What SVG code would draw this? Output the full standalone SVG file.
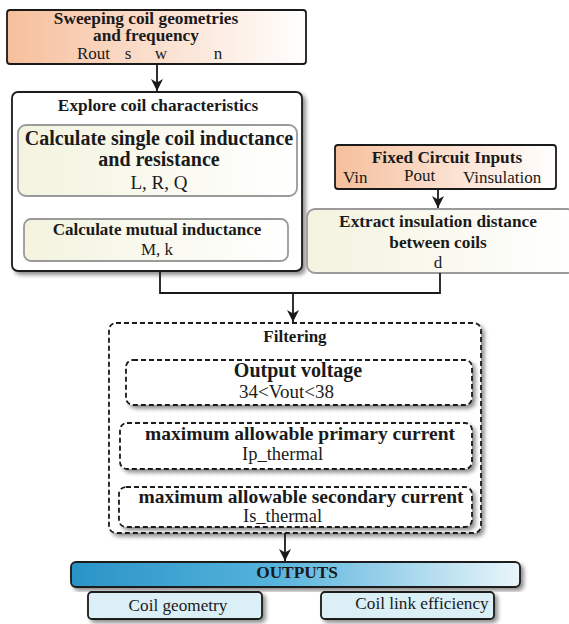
<svg xmlns="http://www.w3.org/2000/svg" width="569" height="624" viewBox="0 0 569 624">
<defs>
<linearGradient id="salmon" x1="0" y1="0" x2="1" y2="0">
<stop offset="0" stop-color="#f6bf9c"/>
<stop offset="1" stop-color="#ffffff"/>
</linearGradient>
<linearGradient id="cream" x1="0" y1="0" x2="1" y2="0">
<stop offset="0" stop-color="#f3f3df"/>
<stop offset="1" stop-color="#ffffff"/>
</linearGradient>
<linearGradient id="blue" x1="0" y1="0" x2="1" y2="0">
<stop offset="0" stop-color="#2a93c6"/>
<stop offset="0.45" stop-color="#55b3dc"/>
<stop offset="1" stop-color="#eaf5fa"/>
</linearGradient>
<filter id="shadow" x="-5%" y="-10%" width="115%" height="130%">
<feGaussianBlur in="SourceAlpha" stdDeviation="2"/>
<feOffset dx="3" dy="3" result="b"/>
<feComponentTransfer><feFuncA type="linear" slope="0.45"/></feComponentTransfer>
<feMerge><feMergeNode/><feMergeNode in="SourceGraphic"/></feMerge>
</filter>
<marker id="arrowL" viewBox="0 0 10 10" refX="10" refY="5" markerWidth="12" markerHeight="12" orient="auto" markerUnits="userSpaceOnUse">
<path d="M0,0 L10,5 L0,10 L3,5 Z" fill="#1a1a1a"/>
</marker>
</defs>
<style>
.t{font-family:'Liberation Serif',serif;fill:#1a1a1a;text-anchor:middle}
.s{text-anchor:start}
.b{font-weight:bold}
.dark{stroke:#1a1a1a;stroke-width:1.8}
.gray{stroke:#9a9a9a;stroke-width:1.8}
.dash{fill:#ffffff;stroke:#1a1a1a;stroke-width:1.8;stroke-dasharray:5,3}
.conn{fill:none;stroke:#1a1a1a;stroke-width:1.8}
</style>
<rect width="569" height="624" fill="#ffffff"/>

<g id="sweep">
<rect x="7" y="10" width="299" height="54" rx="3" fill="url(#salmon)" class="dark"/>
<text class="t b" x="146" y="24" font-size="17.3">Sweeping coil geometries</text>
<text class="t b" x="146" y="41" font-size="17.3">and frequency</text>
<text class="t s" x="77" y="59" font-size="17">Rout</text>
<text class="t" x="128" y="59" font-size="17">s</text>
<text class="t" x="161" y="59" font-size="17">w</text>
<text class="t" x="218" y="59" font-size="17">n</text>
</g>

<g id="explore">
<rect x="12" y="92" width="290" height="179" rx="6" fill="#ffffff" class="dark" filter="url(#shadow)"/>
<text class="t b" x="158" y="111" font-size="17.3">Explore coil characteristics</text>
</g>

<g id="single">
<rect x="18" y="125" width="279" height="71" rx="8" fill="url(#cream)" class="gray"/>
<text class="t b" x="159" y="145" font-size="20">Calculate single coil inductance</text>
<text class="t b" x="159" y="166" font-size="20">and resistance</text>
<text class="t" x="159" y="189" font-size="19">L, R, Q</text>
</g>

<g id="mutual">
<rect x="24" y="219" width="264" height="42" rx="7" fill="url(#cream)" class="gray"/>
<text class="t b" x="157" y="235" font-size="17">Calculate mutual inductance</text>
<text class="t" x="157" y="255" font-size="17">M, k</text>
</g>

<g id="fixed">
<rect x="335" y="145" width="221" height="44" rx="3" fill="url(#salmon)" class="dark"/>
<text class="t b" x="447" y="163" font-size="17.3">Fixed Circuit Inputs</text>
<text class="t s" x="343" y="183" font-size="17">Vin</text>
<text class="t s" x="404" y="181" font-size="17">Pout</text>
<text class="t s" x="463" y="183" font-size="17">Vinsulation</text>
</g>

<g id="extract">
<rect x="307" y="209" width="268" height="64" rx="8" fill="url(#cream)" class="gray"/>
<text class="t b" x="438" y="227" font-size="17.3">Extract insulation distance</text>
<text class="t b" x="438" y="248" font-size="17.3">between coils</text>
<text class="t" x="438" y="268" font-size="17">d</text>
</g>

<g id="filtering">
<rect x="109" y="323" width="372" height="210" rx="7" class="dash" filter="url(#shadow)"/>
<text class="t b" x="295" y="342" font-size="17">Filtering</text>
</g>

<g id="vout">
<rect x="126" y="360" width="346" height="45" rx="7" class="dash" filter="url(#shadow)"/>
<text class="t b" x="298" y="377" font-size="20">Output voltage</text>
<text class="t s" x="239" y="398" font-size="19">34&lt;Vout&lt;38</text>
</g>

<g id="ip">
<rect x="120" y="423" width="352" height="46" rx="7" class="dash" filter="url(#shadow)"/>
<text class="t b" x="300" y="440" font-size="19.5">maximum allowable primary current</text>
<text class="t s" x="242" y="460" font-size="18.5">Ip_thermal</text>
</g>

<g id="is">
<rect x="119" y="487" width="353" height="40" rx="7" class="dash" filter="url(#shadow)"/>
<text class="t b" x="301" y="503" font-size="19.5">maximum allowable secondary current</text>
<text class="t s" x="243" y="522" font-size="18.5">Is_thermal</text>
</g>

<g id="outputs">
<rect x="71" y="562" width="449" height="25" rx="5" fill="url(#blue)" class="dark" filter="url(#shadow)"/>
<text class="t b" x="297" y="578" font-size="17.3">OUTPUTS</text>
</g>

<g id="geometry">
<rect x="88" y="592" width="174" height="27" rx="4" fill="#daeff6" class="dark" filter="url(#shadow)"/>
<text class="t" x="178" y="611" font-size="17.2">Coil geometry</text>
</g>

<g id="efficiency">
<rect x="321" y="592" width="173" height="27" rx="4" fill="#daeff6" class="dark" filter="url(#shadow)"/>
<text class="t" x="422" y="609" font-size="17.2">Coil link efficiency</text>
</g>

<g id="connectors">
<path class="conn" d="M157,64 V91" marker-end="url(#arrowL)"/>
<path class="conn" d="M438,189 V208" marker-end="url(#arrowL)"/>
<path class="conn" d="M160,271 V293 H440 V273"/>
<path class="conn" d="M293,293 V322" marker-end="url(#arrowL)"/>
<path class="conn" d="M285,533 V561" marker-end="url(#arrowL)"/>
</g>
</svg>
